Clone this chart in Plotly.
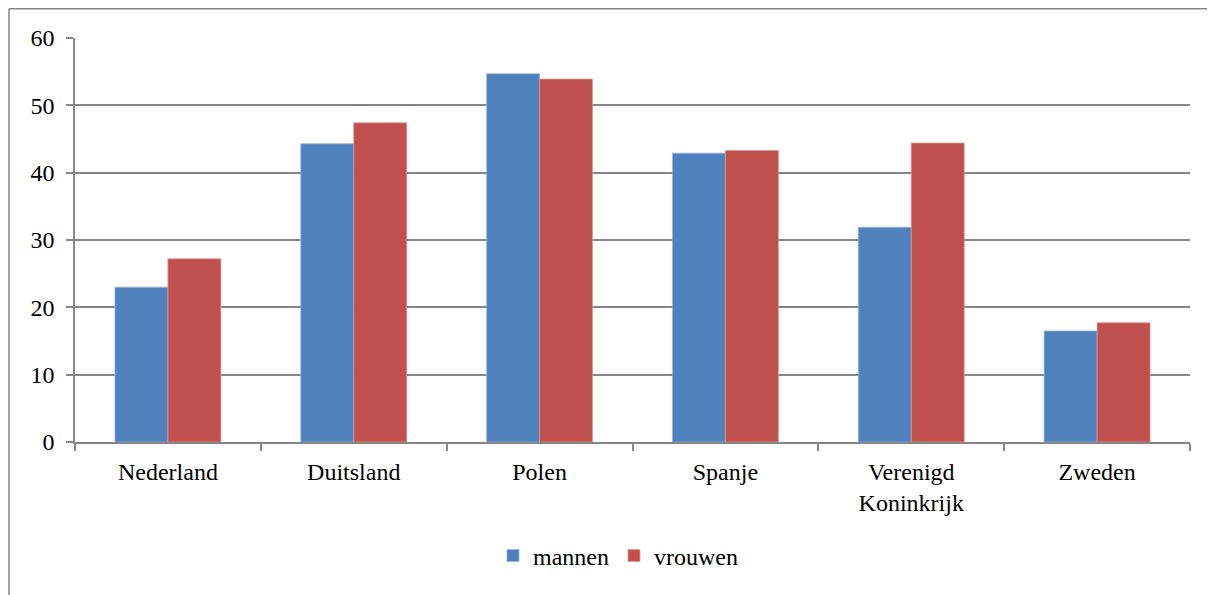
import plotly.graph_objects as go

categories = ["Nederland", "Duitsland", "Polen", "Spanje", "Verenigd<br>Koninkrijk", "Zweden"]
mannen = [23.0, 44.3, 54.7, 42.9, 31.9, 16.5]
vrouwen = [27.2, 47.4, 53.9, 43.3, 44.4, 17.7]
y_ticks = [0, 10, 20, 30, 40, 50, 60]

FONT = "'Times New Roman', 'Liberation Serif', serif"
GRID = "#868686"

fig = go.Figure()
fig.add_trace(go.Bar(name="mannen", x=categories, y=mannen,
                     marker=dict(color="#4F81BD", line=dict(color="#9DB5D9", width=0.8))))
fig.add_trace(go.Bar(name="vrouwen", x=categories, y=vrouwen,
                     marker=dict(color="#C0504D", line=dict(color="#DA9796", width=0.8))))

fig.update_layout(
    width=1207, height=587,
    margin=dict(l=67, r=25, t=30, b=153),
    paper_bgcolor="white", plot_bgcolor="white",
    barmode="group", bargap=0.43, bargroupgap=0,
    font=dict(family=FONT, size=24, color="black"),
    showlegend=True,
    legend=dict(orientation="h", x=0.487, xanchor="center", y=-0.282, yanchor="middle",
                font=dict(family=FONT, size=24), itemwidth=30, traceorder="normal",
                bgcolor="rgba(0,0,0,0)"),
    xaxis=dict(showline=True, linecolor=GRID, linewidth=1.5, ticks="outside",
               tickson="boundaries", ticklen=7, tickcolor=GRID, tickwidth=1.5,
               ticklabelstandoff=7,
               tickfont=dict(family=FONT, size=24), showgrid=False),
    yaxis=dict(range=[0, 60], tickvals=y_ticks, showline=True, linecolor=GRID, linewidth=1.5,
               ticks="outside", ticklen=7, tickcolor=GRID, tickwidth=1.5,
               ticklabelstandoff=7,
               showgrid=True, gridcolor=GRID, gridwidth=1.5, zeroline=False,
               tickfont=dict(family=FONT, size=24)),
    shapes=[
        dict(type="line", xref="paper", yref="paper", x0=-0.0592, x1=1.05, y0=1.0725, y1=1.0725,
             line=dict(color=GRID, width=1.5)),
        dict(type="line", xref="paper", yref="paper", x0=-0.0592, x1=-0.0592, y0=1.0725, y1=-0.5,
             line=dict(color=GRID, width=1.5)),
    ],
)

fig.write_html("out.html")
